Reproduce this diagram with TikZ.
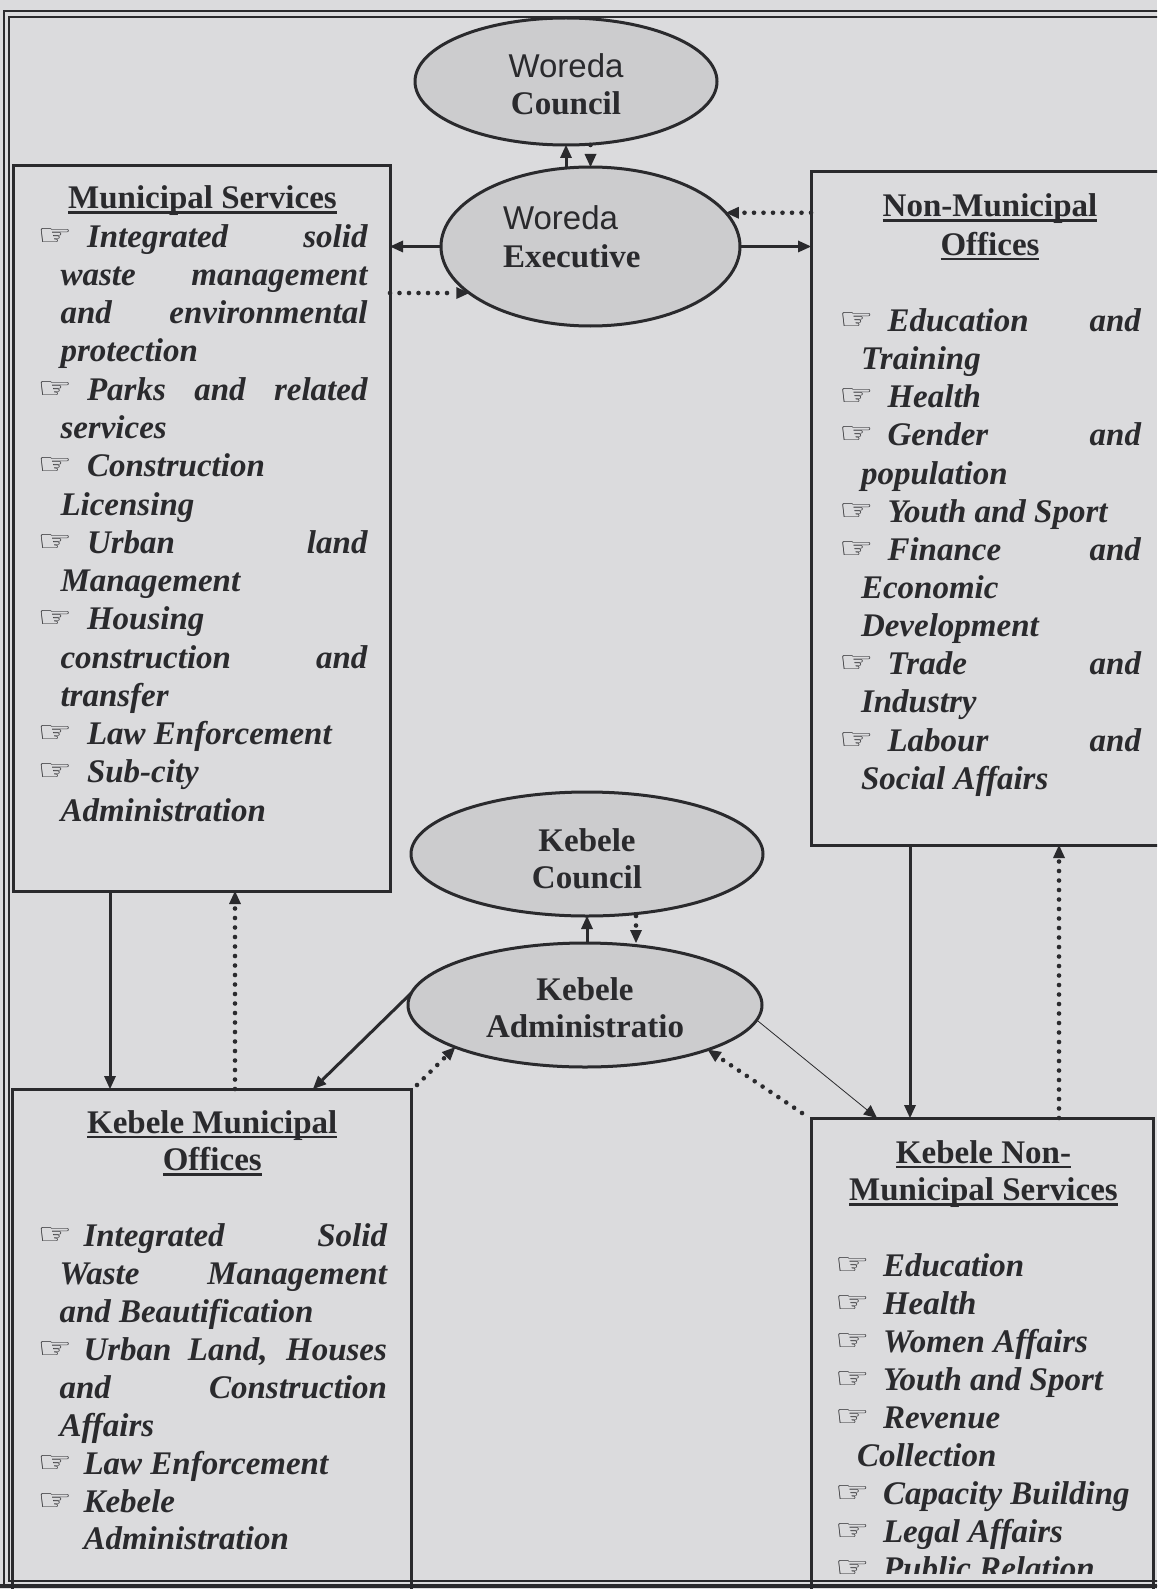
\documentclass[tikz,border=0pt]{standalone}
\usepackage{fontspec}
\setmainfont{Liberation Serif}
\setsansfont{Liberation Sans}
\newfontfamily\handfont{DejaVu Sans}
\usetikzlibrary{shapes.geometric,arrows.meta,calc}
\definecolor{bgc}{RGB}{219,219,221}
\definecolor{ellc}{RGB}{204,204,206}
\definecolor{ink}{RGB}{42,42,45}
\newlength\hw
\newlength\cw
\newcommand\hand{\raisebox{2pt}{\scalebox{1.75}[1.35]{\normalfont\handfont\bfseries\fontsize{22}{22}\selectfont ☞}}}
\newcommand\ulh[1]{\setbox0\hbox{#1}\dp0=0pt\vtop{\box0\kern2.5pt\hrule height 2.4pt}}
\newcommand\HD[1]{\hbox to\hsize{\hfil\ulh{\upshape #1}\hfil}}
\newcommand\HJ[1]{\hbox to\hsize{\hbox to\hw{\hand\hfil}#1}}
\newcommand\HL[1]{\hbox to\hsize{\hbox to\hw{\hand\hfil}#1\hfil}}
\newcommand\CJ[1]{\hbox to\hsize{\hskip\cw\relax #1}}
\newcommand\CL[1]{\hbox to\hsize{\hskip\cw\relax #1\hfil}}
\newcommand\CH[1]{\hbox to\hsize{\hskip\hw\relax #1\hfil}}
\newcommand\BL{\hbox{}}
\begin{document}
\begin{tikzpicture}[x=1pt,y=-1pt,
  boxn/.style={draw=ink, line width=3pt, inner sep=0pt, outer sep=0pt, anchor=north west},
  elln/.style={ellipse, draw=ink, fill=ellc, line width=3pt, inner sep=0pt, outer sep=0pt},
  etxt/.style={inner sep=0pt, outer sep=0pt, text=ink},
  blk/.style={inner sep=0pt, outer sep=0pt, anchor=base west, text=ink},
  arr/.style={draw=ink, line width=3pt, -{Triangle[length=13pt,width=12pt,line width=0pt]}},
  dotarr/.style={draw=ink, line width=4.6pt, line cap=round, dash pattern=on 0pt off 9.5pt, -{Triangle[length=13pt,width=12pt,line width=0pt]}},
  thinarr/.style={draw=ink, line width=0.8pt, -{Triangle[length=13pt,width=12pt,line width=0pt]}},
  sansf/.style={font=\sffamily\fontsize{33}{36}\selectfont},
  boldf/.style={font=\bfseries\fontsize{33}{36}\selectfont}
]
\useasboundingbox (0,0) rectangle (1157,1589);
\clip (0,0) rectangle (1157,1589);
\fill[bgc] (0,0) rectangle (1157,1589);

% boxes
\node[boxn, minimum width=377pt, minimum height=725pt] (MS) at (13,166) {};
\node[boxn, minimum width=354pt, minimum height=673pt] (NM) at (811,172) {};
\node[boxn, minimum width=399pt, minimum height=511pt] (KMO) at (12,1089) {};
\node[boxn, minimum width=342pt, minimum height=482pt] (KNM) at (811,1118) {};

% ellipses
\node[elln, minimum width=302pt, minimum height=127pt] (WC) at (566,81.5) {};
\node[elln, minimum width=299pt, minimum height=159pt] (WE) at (590.5,246.5) {};
\node[elln, minimum width=352pt, minimum height=124pt] (KC) at (587,854) {};
\node[elln, minimum width=354pt, minimum height=124pt] (KA) at (585,1005) {};

% ellipse texts
\node[etxt, sansf, anchor=base] (wc1) at (566,78) {Woreda};
\node[etxt, boldf, anchor=base] (wc2) at (566,115) {Council};
\node[etxt, sansf, anchor=base west] (we1) at (503,230) {Woreda};
\node[etxt, boldf, anchor=base west] (we2) at (503,268) {Executive};
\node[etxt, boldf, anchor=base] (kc1) at (587,851) {Kebele};
\node[etxt, boldf, anchor=base] (kc2) at (587,888) {Council};
\node[etxt, boldf, anchor=base] (ka1) at (585,1000) {Kebele};
\node[etxt, boldf, anchor=base] (ka2) at (585,1037.5) {Administratio};

% text blocks
\node[blk] (mstxt) at (37.5,209) {\vtop{\hsize=330pt\fontsize{33}{38.25}\selectfont\bfseries\itshape\hw=49.5pt\cw=23pt
  \HD{Municipal Services}
  \HJ{Integrated solid}
  \CJ{waste management}
  \CJ{and environmental}
  \CL{protection}
  \HJ{Parks and related}
  \CL{services}
  \HL{Construction}
  \CL{Licensing}
  \HJ{Urban land}
  \CL{Management}
  \HL{Housing}
  \CJ{construction and}
  \CL{transfer}
  \HL{Law Enforcement}
  \HL{Sub-city}
  \CL{Administration}}};

\node[blk] (nmtxt) at (839,217) {\vtop{\hsize=302pt\fontsize{33}{38.15}\selectfont\bfseries\itshape\hw=48.5pt\cw=22pt
  \HD{Non-Municipal}
  \HD{Offices}
  \BL
  \HJ{Education and}
  \CL{Training}
  \HL{Health}
  \HJ{Gender and}
  \CL{population}
  \HL{Youth and Sport}
  \HJ{Finance and}
  \CL{Economic}
  \CL{Development}
  \HJ{Trade and}
  \CL{Industry}
  \HJ{Labour and}
  \CL{Social Affairs}}};

\node[blk] (kmotxt) at (37.5,1133) {\vtop{\hsize=349.5pt\fontsize{33}{37.9}\selectfont\bfseries\itshape\hw=46pt\cw=22pt
  \HD{Kebele Municipal}
  \HD{Offices}
  \BL
  \HJ{Integrated Solid}
  \CJ{Waste Management}
  \CL{and Beautification}
  \HJ{Urban Land, Houses}
  \CJ{and Construction}
  \CL{Affairs}
  \HL{Law Enforcement}
  \HL{Kebele}
  \CH{Administration}}};

\node[blk] (knmtxt) at (835,1163) {\vtop{\hsize=297pt\fontsize{33}{37.9}\selectfont\bfseries\itshape\hw=48pt\cw=22pt
  \HD{Kebele Non-}
  \HD{Municipal Services}
  \BL
  \HL{Education}
  \HL{Health}
  \HL{Women Affairs}
  \HL{Youth and Sport}
  \HL{Revenue}
  \CL{Collection}
  \HL{Capacity Building}
  \HL{Legal Affairs}
  \HL{Public Relation}}};

% connectors: Woreda level
\draw[arr] (WC.south |- WE.north) -- (WC.south);
\draw[dotarr] (WE.north |- WC.south) -- (WE.north);
\draw[arr] (WE.west) -- (WE.west -| MS.east);
\draw[dotarr] (WE.201 -| MS.east) -- (WE.201);
\draw[arr] (WE.east) -- (WE.east -| NM.west);
\draw[dotarr] (WE.14 -| NM.west) -- (WE.14);

% vertical connectors
\coordinate (m1) at ([xshift=97pt]MS.south west);
\coordinate (m2) at ([xshift=222pt]MS.south west);
\coordinate (n1) at ([xshift=99pt]NM.south west);
\coordinate (n2) at ([xshift=248pt]NM.south west);
\draw[arr] (m1) -- (m1 |- KMO.north);
\draw[dotarr] (m2 |- KMO.north) -- (m2);
\draw[arr] (n1) -- (n1 |- KNM.north);
\draw[dotarr] (n2 |- KNM.north) -- (n2);

% Kebele level
\coordinate (k1) at ([xshift=301pt]KMO.north west);
\coordinate (k2) at ([shift={(6pt,4pt)}]KMO.north east);
\coordinate (k3) at ([xshift=66pt]KNM.north west);
\coordinate (k4) at ([shift={(-9pt,5pt)}]KNM.north west);
\coordinate (k5) at ([xshift=49pt]KC.south);
\draw[arr] (KA.176) -- (k1);
\draw[dotarr] (k2) -- (KA.198);
\draw[thinarr] (KA.355) -- (k3);
\draw[dotarr] (k4) -- (KA.340);
\draw[arr] (KC.south |- KA.north) -- (KC.south);
\draw[dotarr] (k5) -- (k5 |- KA.north);

% bottom cut and outer frame
\fill[bgc] (815,1574) rectangle (1150,1589);
\draw[ink, line width=2.5pt] (4,11) rectangle (1185,1586);
\draw[ink, line width=1.3pt] (9,17) rectangle (1180,1581);
\draw[ink, line width=4pt] (0,1586) -- (1157,1586);
\end{tikzpicture}
\end{document}
